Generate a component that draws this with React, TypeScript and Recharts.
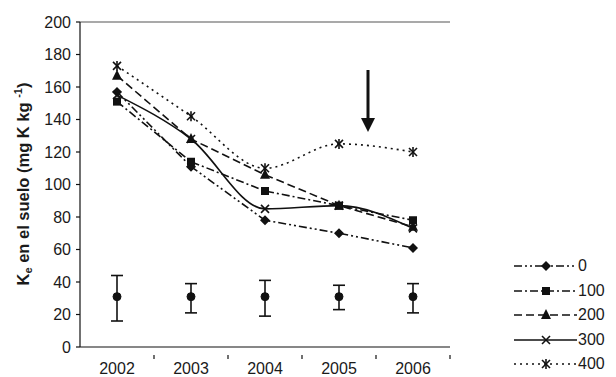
import React from 'react';
import {
  LineChart,
  Line,
  XAxis,
  YAxis,
  ErrorBar,
  ReferenceLine,
} from 'recharts';

// years on the x axis
const years = ['2002', '2003', '2004', '2005', '2006'];

// Ke in soil for each K dose (mg K kg-1)
const dose0 = [157, 111, 78, 70, 61];
const dose100 = [151, 114, 96, 87, 78];
const dose200 = [167, 128, 106, 87, 74];
const dose300 = [155, 128, 85, 87, 73];
const dose400 = [173, 142, 110, 125, 120];

// LSD-style error bar row near the bottom
const errMean = [31, 31, 31, 31, 31];
const errLow = [15, 10, 12, 8, 10];
const errHigh = [13, 8, 10, 7, 8];

const yTicks = [0, 20, 40, 60, 80, 100, 120, 140, 160, 180, 200];

const data = years.map((year, i) => ({
  year,
  d0: dose0[i],
  d100: dose100[i],
  d200: dose200[i],
  d300: dose300[i],
  d400: dose400[i],
  mean: errMean[i],
  err: [errLow[i], errHigh[i]],
}));

const INK = '#111';
const TXT = '#1a1a1a';
const FONT = '"Liberation Sans", Arial, sans-serif';

type MarkerKind = 'diamond' | 'square' | 'triangle' | 'cross' | 'star';

function Marker({ kind, cx, cy }: { kind: MarkerKind; cx: number; cy: number }) {
  if (cx == null || cy == null) return null;
  if (kind === 'diamond')
    return <polygon points={`${cx},${cy - 5} ${cx + 5},${cy} ${cx},${cy + 5} ${cx - 5},${cy}`} fill={INK} />;
  if (kind === 'square') return <rect x={cx - 4} y={cy - 4} width={8} height={8} fill={INK} />;
  if (kind === 'triangle')
    return <polygon points={`${cx},${cy - 6} ${cx + 5},${cy + 4} ${cx - 5},${cy + 4}`} fill={INK} />;
  const s = 4;
  return (
    <g stroke={INK} strokeWidth={1.6}>
      <line x1={cx - s} y1={cy - s} x2={cx + s} y2={cy + s} />
      <line x1={cx - s} y1={cy + s} x2={cx + s} y2={cy - s} />
      {kind === 'star' && <line x1={cx} y1={cy - s - 1} x2={cx} y2={cy + s + 1} />}
    </g>
  );
}

const series: { key: string; name: string; marker: MarkerKind; dash?: string; type: 'linear' | 'monotone' }[] = [
  { key: 'd0', name: '0', marker: 'diamond', dash: '8 3 2 3 2 3', type: 'linear' },
  { key: 'd100', name: '100', marker: 'square', dash: '8 3 2 3', type: 'linear' },
  { key: 'd200', name: '200', marker: 'triangle', dash: '8 4', type: 'linear' },
  { key: 'd300', name: '300', marker: 'cross', type: 'monotone' },
  { key: 'd400', name: '400', marker: 'star', dash: '2 4', type: 'monotone' },
];

const XTick = (props: any) => {
  const { x, y, payload } = props;
  return (
    <g>
      <line x1={x + 37} y1={y} x2={x + 37} y2={y + 4} stroke={INK} strokeWidth={1.2} />
      <text x={x} y={y + 19} textAnchor="middle" fontSize={16} fill={TXT} fontFamily={FONT}>
        {payload.value}
      </text>
    </g>
  );
};

const YLabel = () => (
  <text
    transform="translate(29,184) rotate(-90)"
    textAnchor="middle"
    fontSize={16.5}
    fontWeight="bold"
    fill={TXT}
    fontFamily={FONT}
  >
    K<tspan fontSize={11} dy={3}>e</tspan>
    <tspan dy={-3}> en el suelo (mg K kg </tspan>
    <tspan fontSize={11} dy={-7}>-1</tspan>
    <tspan dy={7}>)</tspan>
  </text>
);

const LegendBox = () => (
  <div style={{ position: 'absolute', left: 513, top: 254, fontFamily: FONT }}>
    {series.map((s) => (
      <div key={s.key} style={{ display: 'flex', alignItems: 'center', height: 24.5 }}>
        <svg width={65} height={14}>
          <line x1={1} y1={7} x2={64} y2={7} stroke={INK} strokeWidth={1.6} strokeDasharray={s.dash} />
          <Marker kind={s.marker} cx={33} cy={7} />
        </svg>
        <span style={{ fontSize: 16, color: TXT, marginLeft: 0 }}>{s.name}</span>
      </div>
    ))}
  </div>
);

export default function App() {
  return (
    <div style={{ position: 'absolute', left: 0, top: 0, width: 616, height: 377, background: '#fff' }}>
      <LineChart width={616} height={377} data={data} margin={{ top: 22, right: 166, bottom: 0, left: 0 }}>
        <XAxis
          dataKey="year"
          scale="band"
          height={30}
          axisLine={{ stroke: INK, strokeWidth: 1.2 }}
          tickLine={false}
          tick={<XTick />}
          interval={0}
        />
        <YAxis
          width={80}
          domain={[0, 200]}
          ticks={yTicks}
          interval={0}
          axisLine={{ stroke: INK, strokeWidth: 1.2 }}
          tickLine={{ stroke: INK, strokeWidth: 1.2 }}
          tickSize={4}
          tickMargin={5}
          tick={{ fontSize: 16, fill: TXT, fontFamily: FONT }}
          label={<YLabel />}
        />
        <YAxis
          yAxisId="frame"
          orientation="right"
          width={0}
          domain={[0, 200]}
          tick={false}
          tickLine={false}
          axisLine={{ stroke: '#555', strokeWidth: 1.2 }}
        />
        <ReferenceLine y={200} stroke="#555" strokeWidth={1.2} />
        {series.map((s) => (
          <Line
            key={s.key}
            dataKey={s.key}
            name={s.name}
            type={s.type}
            stroke={INK}
            strokeWidth={1.6}
            strokeDasharray={s.dash}
            isAnimationActive={false}
            dot={(p: any) => <Marker key={`${s.key}-${p.index}`} kind={s.marker} cx={p.cx} cy={p.cy} />}
            activeDot={false}
          />
        ))}
        <Line
          dataKey="mean"
          stroke="none"
          legendType="none"
          isAnimationActive={false}
          dot={{ r: 4, fill: INK, stroke: INK }}
          activeDot={false}
        >
          <ErrorBar dataKey="err" width={6} stroke={INK} strokeWidth={1.6} direction="y" />
        </Line>
      </LineChart>
      <LegendBox />
      <svg width={616} height={377} style={{ position: 'absolute', left: 0, top: 0, pointerEvents: 'none' }}>
        <line x1={368} y1={70} x2={368} y2={120} stroke={INK} strokeWidth={3} />
        <polygon points="361,118 375,118 368,132" fill={INK} />
      </svg>
    </div>
  );
}
